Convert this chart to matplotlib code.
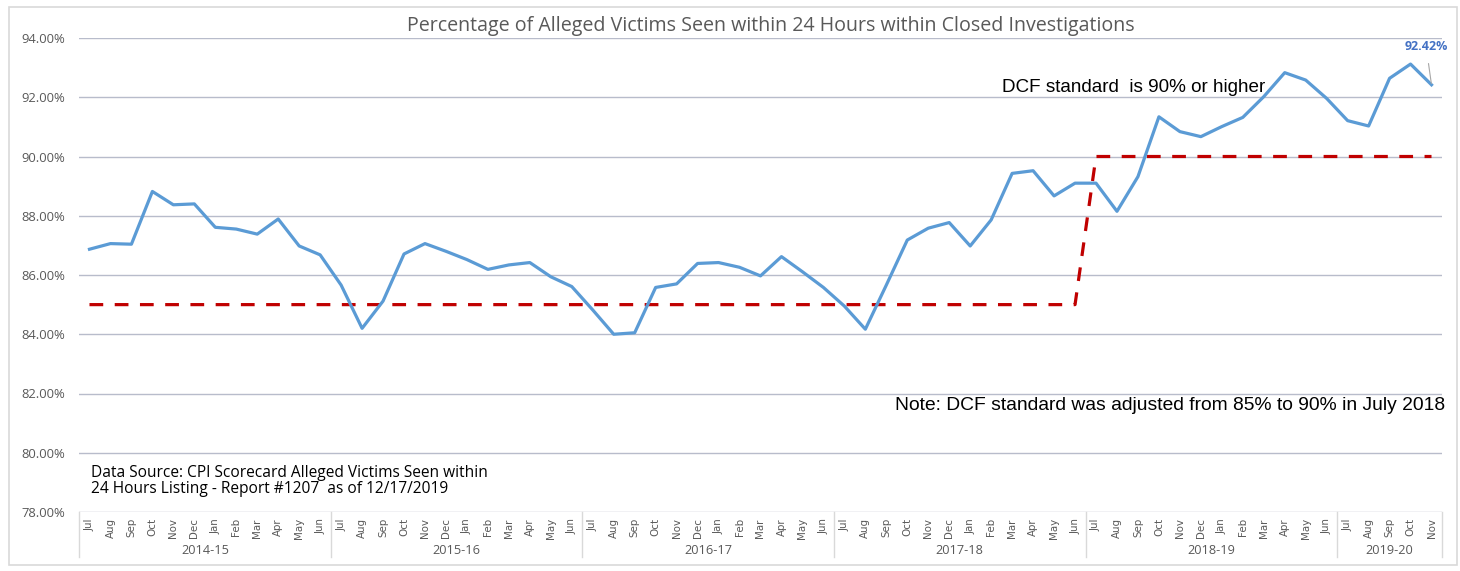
import numpy as np
import matplotlib
matplotlib.use("Agg")
import matplotlib.pyplot as plt
from matplotlib.patches import Rectangle
from matplotlib.lines import Line2D

# fiscal years and the months shown in each
FISCAL_YEARS = ["2014-15", "2015-16", "2016-17", "2017-18", "2018-19", "2019-20"]
MONTHS = ["Jul", "Aug", "Sep", "Oct", "Nov", "Dec",
          "Jan", "Feb", "Mar", "Apr", "May", "Jun"]
MONTHS_PER_YEAR = [12, 12, 12, 12, 12, 5]

# % alleged victims seen within 24 hours
PCT_SEEN = [
    86.87, 87.06, 87.04, 88.82, 88.37, 88.40, 87.61, 87.55, 87.38, 87.89, 86.98, 86.68,
    85.66, 84.20, 85.12, 86.71, 87.06, 86.80, 86.52, 86.19, 86.34, 86.42, 85.94, 85.61,
    84.82, 84.00, 84.05, 85.58, 85.70, 86.39, 86.42, 86.26, 85.97, 86.62, 86.11, 85.58,
    84.95, 84.17, 85.66, 87.18, 87.58, 87.77, 86.98, 87.86, 89.43, 89.52, 88.67, 89.10,
    89.10, 88.15, 89.32, 91.34, 90.84, 90.67, 91.01, 91.32, 92.02, 92.83, 92.58, 91.96,
    91.21, 91.03, 92.64, 93.12, 92.42,
]
# DCF standard: 85% until Jun 2018, 90% from Jul 2018
STANDARD = [85.0] * 48 + [90.0] * 17

YTICKS = [78, 80, 82, 84, 86, 88, 90, 92, 94]

W, H = 1460, 571
fig = plt.figure(figsize=(W / 100, H / 100), dpi=100)
fig.patch.set_facecolor("white")

# outer chart frame
fig.patches.append(Rectangle((9 / W, 1 - 565 / H), (1457 - 9) / W, (565 - 7) / H,
                             transform=fig.transFigure, fill=False,
                             edgecolor="#d9d9d9", linewidth=1.2))

L, R, T, B = 79, 1442, 38, 512
ax = fig.add_axes([L / W, 1 - B / H, (R - L) / W, (B - T) / H])

x = np.arange(len(PCT_SEEN))
ax.plot(x, PCT_SEEN, color="#5b9bd5", linewidth=2.3, solid_joinstyle="round", zorder=3)
ax.plot(x, STANDARD, color="#c00000", linewidth=2.3, linestyle=(0, (4.3, 3.6)), zorder=2)

ax.set_xlim(-0.5, len(PCT_SEEN) - 0.5)
ax.set_ylim(78, 94)
ax.set_yticks(YTICKS)
ax.set_yticklabels([f"{v:.2f}%" for v in YTICKS], fontsize=9.4, color="#595959",
                   family="Open Sans")
ax.tick_params(axis="y", length=0, pad=10)
ax.tick_params(axis="x", length=0, labelbottom=False)
ax.grid(axis="y", color="#b8bccb", linewidth=1.0)
ax.set_axisbelow(True)
for s in ax.spines.values():
    s.set_visible(False)

# two-level category axis
trans = ax.get_xaxis_transform()
i = 0
seps = [-0.5]
for fy, n in zip(FISCAL_YEARS, MONTHS_PER_YEAR):
    for m in MONTHS[:n]:
        ax.text(i, -0.013, m, rotation=90, ha="center", va="top", fontsize=7.4,
                color="#595959", family="Liberation Sans Narrow", transform=trans)
        i += 1
    ax.text(i - n / 2 - 0.5, -0.081, fy, ha="center", va="center", fontsize=9.2,
            color="#595959", family="Open Sans", transform=trans)
    seps.append(i - 0.5)
for s in seps:
    ax.add_line(Line2D([s, s], [0, -0.095], transform=trans, color="#d9d9d9",
                       linewidth=1.0, clip_on=False))

fig.text(771 / W, 1 - 26 / H,
         "Percentage of Alleged Victims Seen within 24 Hours within Closed Investigations",
         ha="center", va="center", fontsize=14.1, color="#595959", family="Open Sans")

ax.text(1002 / W, 1 - 87 / H, "DCF standard  is 90% or higher", transform=fig.transFigure,
        ha="left", va="center", fontsize=13.6, color="black", family="Liberation Sans")
ax.text(1445 / W, 1 - 405 / H, "Note: DCF standard was adjusted from 85% to 90% in July 2018",
        transform=fig.transFigure, ha="right", va="center", fontsize=13.9, color="black",
        family="Liberation Sans")
ax.text(91 / W, 1 - 481 / H,
        "Data Source: CPI Scorecard Alleged Victims Seen within\n24 Hours Listing - Report #1207  as of 12/17/2019",
        transform=fig.transFigure, ha="left", va="center", fontsize=11.2, color="black",
        family="Open Sans", linespacing=1.05)

# data label on the last point
last = len(PCT_SEEN) - 1
ax.annotate(f"{PCT_SEEN[last]:.2f}%", xy=(last, PCT_SEEN[last]),
            xytext=(1426 / W, 1 - 46 / H), textcoords="figure fraction",
            ha="center", va="center", fontsize=9, color="#4472c4", fontweight="bold",
            family="Open Sans",
            arrowprops=dict(arrowstyle="-", color="#a6a6a6", linewidth=0.8,
                            shrinkA=6, shrinkB=1))

fig.savefig("out.png", dpi=100, facecolor="white")
